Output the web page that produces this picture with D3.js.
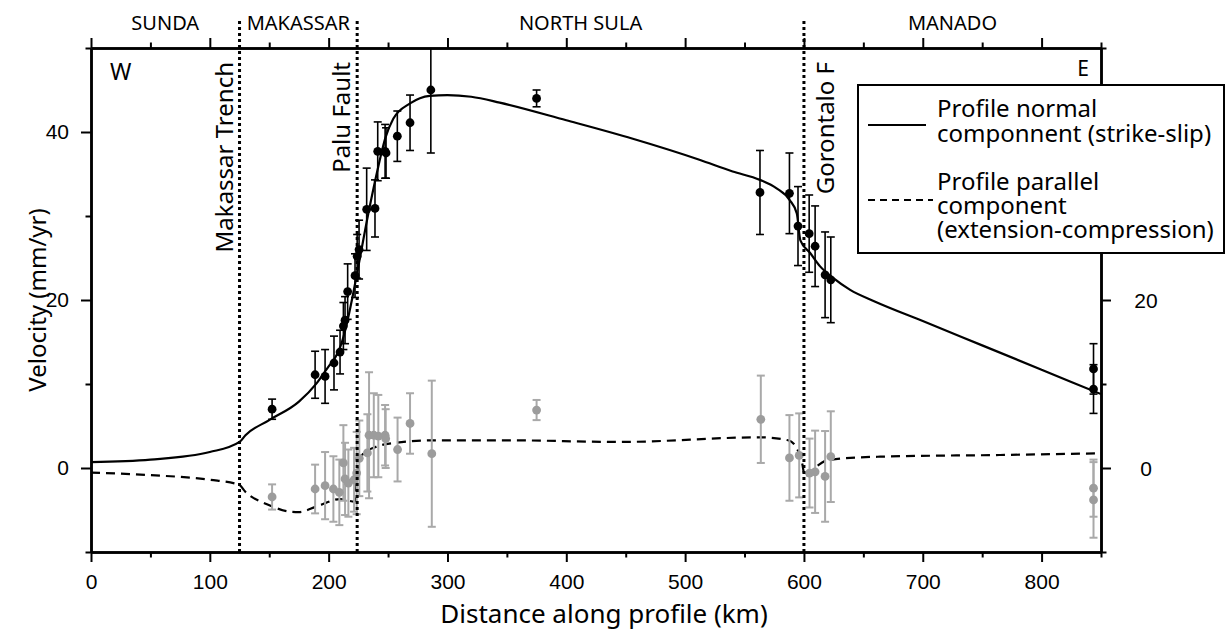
<!DOCTYPE html>
<html>
<head>
<meta charset="utf-8">
<script src="https://cdn.jsdelivr.net/npm/d3@7"></script>
<style>
body { margin: 0; background: #fff; }
</style>
</head>
<body>
<svg id="board" width="1227" height="631"></svg>
<script>
// GPS velocities, profile normal component (black)
let normKm  = [152.4, 188.6, 197, 204.5, 209.6, 212.4, 213.8, 216, 222.2, 224, 225.6, 232, 239, 241.3, 247.5, 248.3, 257.8, 268.5, 286, 375, 563, 587.8, 595, 604.4, 609.4, 617.8, 622.6, 843.7, 843.7]
let normVel = [7.0, 11.1, 10.9, 12.5, 13.8, 16.9, 17.6, 21.0, 22.9, 25.2, 26.0, 30.8, 30.9, 37.7, 37.7, 37.5, 39.5, 41.1, 45.0, 44.0, 32.8, 32.7, 28.8, 27.9, 26.4, 23.0, 22.4, 11.8, 9.4]
let normErr = [1.2, 2.8, 3.2, 3.2, 2.6, 2.8, 2.8, 3.3, 2.6, 2.6, 3.5, 4.9, 3.4, 3.5, 3.2, 3.0, 3.0, 3.3, 7.5, 1.0, 5.0, 4.8, 4.7, 4.6, 4.8, 5.1, 5.1, 3.0, 2.9]

// profile parallel component (grey)
let parKm  = [152.4, 188.6, 197, 204, 209, 212.4, 213.8, 216.6, 221.4, 223.6, 225.8, 232.6, 234, 238, 241.8, 247.5, 248, 258, 268.5, 286.8, 375, 563.7, 587.8, 596, 604.7, 609.4, 617.8, 622.6, 843.7, 843.7]
let parVel = [-3.45, -2.5, -2.1, -2.5, -2.9, 0.6, -1.3, -1.8, -1.4, -0.6, 1.15, 1.8, 3.9, 3.9, 3.8, 3.9, 3.5, 2.2, 5.3, 1.7, 6.9, 5.8, 1.2, 1.5, -0.6, -0.45, -1.0, 1.35, -2.4, -3.8]
let parErr = [1.5, 2.9, 4.0, 3.9, 3.9, 4.5, 4.3, 4.0, 3.8, 4.9, 4.5, 4.6, 7.5, 5.0, 4.9, 3.6, 3.5, 3.8, 3.6, 8.7, 1.2, 5.2, 5.1, 5.0, 4.1, 4.9, 5.4, 5.4, 3.4, 4.5]

// model curves
let modelNormKm  = [0, 50, 100, 125, 130, 150, 175, 190, 200, 205, 210, 215, 220, 225, 233.4, 241.8, 247.5, 254.5, 268.5, 285, 300, 320, 344, 400, 456, 512, 540, 563, 577, 588, 594, 597, 605.2, 613.6, 624.8, 638.9, 660, 700, 750, 800, 850]
let modelNormVel = [0.7, 1.0, 1.9, 3.1, 3.9, 5.7, 7.9, 10.1, 12.1, 13.0, 14.5, 17.0, 20.3, 24.0, 30.3, 35.9, 39.2, 41.6, 43.4, 44.3, 44.4, 44.2, 43.5, 41.4, 39.2, 36.7, 35.3, 34.3, 33.3, 31.9, 30.3, 27.1, 25.6, 24.0, 22.6, 21.2, 19.8, 17.5, 14.6, 11.7, 8.8]
let modelParKm  = [0, 50, 100, 124.6, 129.7, 149.6, 167.5, 175, 189.6, 209.6, 221.8, 224.5, 227.9, 239.5, 256, 289, 350, 445, 563, 586.7, 593.4, 598.5, 600.8, 610.3, 620.4, 664, 765, 850]
let modelParVel = [-0.55, -0.85, -1.4, -2.0, -2.8, -4.4, -5.2, -5.25, -4.6, -3.7, -4.0, -0.2, 1.5, 2.5, 3.0, 3.3, 3.3, 3.1, 3.65, 3.3, 2.5, 0.55, -1.0, 0.15, 0.95, 1.35, 1.55, 1.75]

// structures and domains
let faultKm = [125, 224, 600]
let faultNames = ['Makassar Trench', 'Palu Fault', 'Gorontalo F']
let faultSide = [-1, -1, 1]   // label left or right of the line
let regionBounds = [0, 125, 224, 600, 850]
let regionNames = ['SUNDA', 'MAKASSAR', 'NORTH SULA', 'MANADO']

let xMajor = [0, 100, 200, 300, 400, 500, 600, 700, 800]
let xMinor = [50, 150, 250, 350, 450, 550, 650, 750, 850]
let yMajor = [0, 20, 40]
let yMinor = [-10, 10, 30, 50]
let yRightLabels = [0, 20]

let sans = '"Noto Sans", "Open Sans", sans-serif'
let helv = '"Liberation Sans", Arial, sans-serif'

let board = d3.select('#board')

let x = d3.scaleLinear().domain([0, 850]).range([91, 1101])
let y = d3.scaleLinear().domain([-10, 50]).range([552, 48])

board.append('defs').append('clipPath').attr('id', 'plotclip')
    .append('rect')
    .attr('x', x(0)).attr('y', y(50))
    .attr('width', x(850) - x(0)).attr('height', y(-10) - y(50))

let plot = board.append('g').attr('clip-path', 'url(#plotclip)')

// model lines
let lineNorm = d3.line().x(d => x(d[0])).y(d => y(d[1])).curve(d3.curveMonotoneX)
plot.append('path')
    .datum(modelNormKm.map((k, i) => [k, modelNormVel[i]]))
    .attr('d', lineNorm)
    .attr('fill', 'none').attr('stroke', '#000').attr('stroke-width', 2.2)

plot.append('path')
    .datum(modelParKm.map((k, i) => [k, modelParVel[i]]))
    .attr('d', lineNorm)
    .attr('fill', 'none').attr('stroke', '#000').attr('stroke-width', 2.2)
    .attr('stroke-dasharray', '9,6')

let drawPoints = function(km, vel, err, dotColor, barColor, barWidth) {
    let pts = km.map((k, i) => ({ k: k, v: vel[i], e: err[i] }))
    let g = plot.append('g')
    let bars = g.selectAll('g.bar').data(pts).enter().append('g').attr('class', 'bar')
        .attr('stroke', barColor).attr('stroke-width', barWidth)
    bars.append('line')
        .attr('x1', d => x(d.k)).attr('x2', d => x(d.k))
        .attr('y1', d => y(d.v + d.e)).attr('y2', d => y(d.v - d.e))
    bars.append('line')
        .attr('x1', d => x(d.k) - 4).attr('x2', d => x(d.k) + 4)
        .attr('y1', d => y(d.v + d.e)).attr('y2', d => y(d.v + d.e))
    bars.append('line')
        .attr('x1', d => x(d.k) - 4).attr('x2', d => x(d.k) + 4)
        .attr('y1', d => y(d.v - d.e)).attr('y2', d => y(d.v - d.e))
    g.selectAll('circle').data(pts).enter().append('circle')
        .attr('cx', d => x(d.k)).attr('cy', d => y(d.v))
        .attr('r', 4.4).attr('fill', dotColor)
}

drawPoints(parKm, parVel, parErr, '#9c9c9c', '#a9a9a9', 2)
drawPoints(normKm, normVel, normErr, '#000', '#000', 1.6)

// fault lines (dotted)
board.selectAll('line.fault').data(faultKm).enter().append('line')
    .attr('class', 'fault')
    .attr('x1', d => x(d)).attr('x2', d => x(d))
    .attr('y1', 21).attr('y2', y(-10))
    .attr('stroke', '#000').attr('stroke-width', 3).attr('stroke-dasharray', '3,3')

board.selectAll('text.fault').data(faultKm).enter().append('text')
    .attr('class', 'fault')
    .attr('transform', (d, i) => 'translate(' + (x(d) + (faultSide[i] < 0 ? -7 : 30)) + ',62) rotate(-90)')
    .attr('text-anchor', 'end')
    .style('font-family', sans).style('font-size', '24px')
    .text((d, i) => faultNames[i])

// axes
let axisStyle = function(g) {
    g.select('.domain').attr('stroke-width', 2.5)
    g.selectAll('.tick line').attr('stroke-width', 2)
    g.selectAll('.tick text').style('font-family', helv).style('font-size', '21px').attr('fill', '#000')
}

board.append('g').attr('transform', 'translate(0,' + y(-10) + ')')
    .call(d3.axisBottom(x).tickValues(xMajor).tickSize(10).tickSizeOuter(0).tickPadding(12))
    .call(axisStyle)
board.append('g').attr('transform', 'translate(0,' + y(-10) + ')')
    .call(d3.axisBottom(x).tickValues(xMinor).tickSize(5.5).tickSizeOuter(0).tickFormat(''))
    .call(axisStyle)
board.append('g').attr('transform', 'translate(0,' + y(50) + ')')
    .call(d3.axisTop(x).tickValues(xMajor).tickSize(10).tickSizeOuter(0).tickFormat(''))
    .call(axisStyle)
board.append('g').attr('transform', 'translate(0,' + y(50) + ')')
    .call(d3.axisTop(x).tickValues(xMinor).tickSize(5.5).tickSizeOuter(0).tickFormat(''))
    .call(axisStyle)

board.append('g').attr('transform', 'translate(' + x(0) + ',0)')
    .call(d3.axisLeft(y).tickValues(yMajor).tickSize(10).tickSizeOuter(0).tickPadding(12))
    .call(axisStyle)
board.append('g').attr('transform', 'translate(' + x(0) + ',0)')
    .call(d3.axisLeft(y).tickValues(yMinor).tickSize(5.5).tickSizeOuter(0).tickFormat(''))
    .call(axisStyle)
board.append('g').attr('transform', 'translate(' + x(850) + ',0)')
    .call(d3.axisRight(y).tickValues(yMajor).tickSize(10).tickSizeOuter(0).tickFormat(''))
    .call(axisStyle)
board.append('g').attr('transform', 'translate(' + x(850) + ',0)')
    .call(d3.axisRight(y).tickValues(yMinor).tickSize(5.5).tickSizeOuter(0).tickFormat(''))
    .call(axisStyle)

// right labels sit further out, centred
board.selectAll('text.rlab').data(yRightLabels).enter().append('text')
    .attr('class', 'rlab')
    .attr('x', 1146).attr('y', d => y(d) + 7.5)
    .attr('text-anchor', 'middle')
    .style('font-family', helv).style('font-size', '21px')
    .text(d => d)

// region names on top
board.selectAll('text.region').data(regionNames).enter().append('text')
    .attr('class', 'region')
    .attr('x', (d, i) => x((regionBounds[i] + regionBounds[i + 1]) / 2))
    .attr('y', 30)
    .attr('text-anchor', 'middle')
    .style('font-family', sans).style('font-size', '20px')
    .text(d => d)

board.append('text').attr('x', 110).attr('y', 80)
    .style('font-family', sans).style('font-size', '23px').text('W')
board.append('text').attr('x', 1089).attr('y', 76).attr('text-anchor', 'end')
    .style('font-family', sans).style('font-size', '21px').text('E')

// axis titles
board.append('text')
    .attr('x', 604).attr('y', 623)
    .attr('text-anchor', 'middle')
    .style('font-family', sans).style('font-size', '26px')
    .text('Distance along profile (km)')

board.append('text')
    .attr('transform', 'translate(46,300) rotate(-90)')
    .attr('text-anchor', 'middle')
    .style('font-family', sans).style('font-size', '24px')
    .text('Velocity (mm/yr)')

// legend
let legend = board.append('g')
legend.append('rect')
    .attr('x', 858).attr('y', 85).attr('width', 366).attr('height', 168)
    .attr('fill', '#fff').attr('stroke', '#000').attr('stroke-width', 2)
legend.append('line')
    .attr('x1', 868).attr('x2', 926).attr('y1', 125).attr('y2', 125)
    .attr('stroke', '#000').attr('stroke-width', 2)
legend.append('line')
    .attr('x1', 868).attr('x2', 933).attr('y1', 200).attr('y2', 200)
    .attr('stroke', '#000').attr('stroke-width', 2).attr('stroke-dasharray', '7,5')

let legendLines = ['Profile normal', 'componnent (strike-slip)', 'Profile parallel', 'component', '(extension-compression)']
let legendBase = [117, 142, 190, 214, 238]
legend.selectAll('text').data(legendLines).enter().append('text')
    .attr('x', 937).attr('y', (d, i) => legendBase[i])
    .style('font-family', sans).style('font-size', '24px')
    .text(d => d)
</script>
</body>
</html>
